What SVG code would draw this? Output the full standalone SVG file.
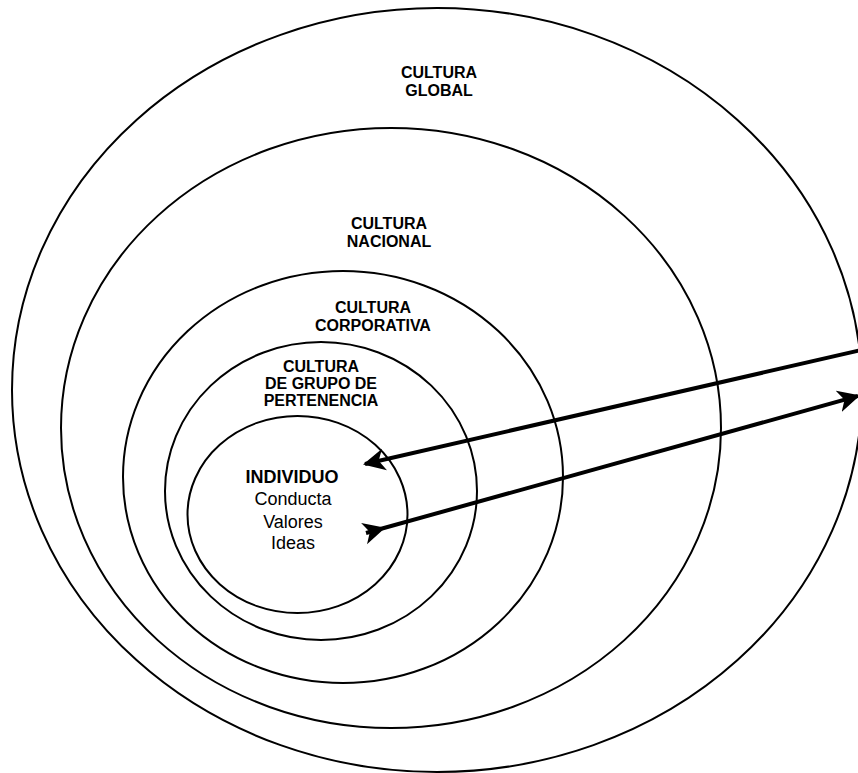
<svg xmlns="http://www.w3.org/2000/svg" width="858" height="773" viewBox="0 0 858 773">
<style>
.ring{fill:none;stroke:#000;stroke-width:2}
.t{font-family:"Liberation Sans",Arial,sans-serif;font-weight:bold;font-size:16px;fill:#000;text-anchor:middle}
.tb{font-family:"Liberation Sans",Arial,sans-serif;font-weight:bold;font-size:18px;fill:#000;text-anchor:middle}
.tr{font-family:"Liberation Sans",Arial,sans-serif;font-size:18px;fill:#000;text-anchor:middle}
.conn{fill:none;stroke:#000;stroke-width:4}
</style>
<defs>
<marker id="head" markerUnits="userSpaceOnUse" markerWidth="24" markerHeight="24" refX="20" refY="11" orient="auto" viewBox="0 0 24 22">
<path d="M0,0 L22,11 L0,22 L6,11 Z" fill="#000"/>
</marker>
<marker id="tail" markerUnits="userSpaceOnUse" markerWidth="24" markerHeight="24" refX="2" refY="11" orient="auto" viewBox="0 0 24 22">
<path d="M0,0 L22,11 L0,22 L6,11 Z" fill="#000"/>
</marker>
</defs>
<rect width="858" height="773" fill="#fff"/>
<g id="global">
<ellipse class="ring" cx="437" cy="390" rx="425" ry="382"/>
<text class="t" x="439" y="78">CULTURA</text>
<text class="t" x="439" y="96">GLOBAL</text>
</g>
<g id="nacional">
<ellipse class="ring" cx="391" cy="428" rx="330" ry="300"/>
<text class="t" x="389" y="229">CULTURA</text>
<text class="t" x="389" y="247">NACIONAL</text>
</g>
<g id="corporativa">
<ellipse class="ring" cx="343" cy="477" rx="220" ry="206"/>
<text class="t" x="373" y="313">CULTURA</text>
<text class="t" x="373" y="331">CORPORATIVA</text>
</g>
<g id="grupo">
<ellipse class="ring" cx="321" cy="491" rx="156" ry="149"/>
<text class="t" x="321" y="372">CULTURA</text>
<text class="t" x="321" y="389">DE GRUPO DE</text>
<text class="t" x="321" y="406">PERTENENCIA</text>
</g>
<g id="individuo">
<ellipse class="ring" cx="297.5" cy="514.5" rx="110" ry="98.5"/>
<text class="tb" x="292" y="483">INDIVIDUO</text>
<text class="tr" x="293" y="505">Conducta</text>
<text class="tr" x="293" y="528">Valores</text>
<text class="tr" x="293" y="549">Ideas</text>
</g>
<g id="connectors">
<path class="conn" d="M870,348 L365,464" marker-end="url(#head)"/>
<path class="conn" d="M366,533 L858,396" marker-start="url(#tail)" marker-end="url(#head)"/>
</g>
</svg>
